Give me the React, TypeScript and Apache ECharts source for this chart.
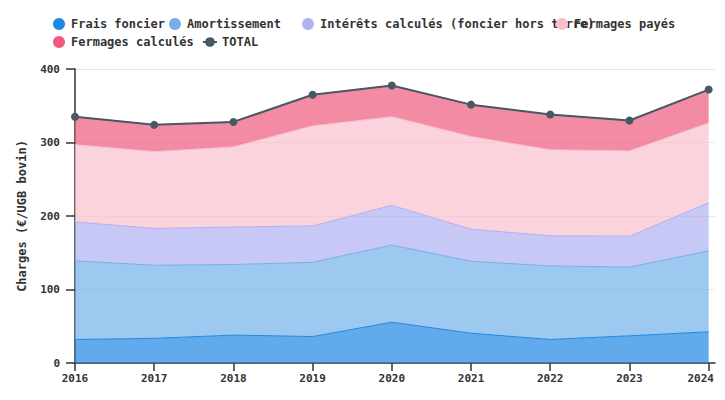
import React, { useEffect, useRef } from "react";
import * as echarts from "echarts";

const years = [2016, 2017, 2018, 2019, 2020, 2021, 2022, 2023, 2024];
const fraisFoncier = [32, 33.5, 38, 36, 55.5, 40.5, 32, 37, 42.5];
const amortissement = [107, 99.5, 96, 101, 105, 98, 100, 93.5, 110];
const interets = [53, 50, 51, 49.5, 54, 43.5, 41, 42, 65.5];
const fermagesPayes = [105, 104.5, 109, 136, 120.5, 126, 117, 116, 108.5];
const fermagesCalcules = [38, 36.5, 34, 42.5, 42.5, 43.5, 48, 41.5, 45.5];
const total = [335, 324, 328, 365, 377.5, 351.5, 338, 330, 372];
const yTicks = [0, 100, 200, 300, 400];

const FONT = "'DejaVu Sans Mono', monospace";
const TXT = "#333333";

const areaNames = [
  "Frais foncier",
  "Amortissement",
  "Intérêts calculés (foncier hors terre)",
  "Fermages payés",
  "Fermages calculés",
];
const areaData = [fraisFoncier, amortissement, interets, fermagesPayes, fermagesCalcules];
const areaColors = ["#1E88E5", "#74B0EA", "#B0B0F2", "#F8C0CE", "#F05A7E"];

const legendPos: [string, number, number][] = [
  ["Frais foncier", 53, 18],
  ["Amortissement", 169, 18],
  ["Intérêts calculés (foncier hors terre)", 302, 18],
  ["Fermages payés", 556, 18],
  ["Fermages calculés", 53, 36],
  ["TOTAL", 202, 36],
];

export default function App() {
  const ref = useRef<HTMLDivElement>(null);
  useEffect(() => {
    if (!ref.current) return;
    const chart = echarts.init(ref.current, undefined, { renderer: "svg" });
    // value first, year second, so stacking happens on the y dimension
    const pair = (arr: number[]) => arr.map((v, i) => [v, years[i]]);
    const series: any[] = areaNames.map((name, k) => ({
      name,
      type: "line",
      stack: "charges",
      data: pair(areaData[k]),
      encode: { x: 1, y: 0 },
      symbol: "none",
      showSymbol: false,
      color: areaColors[k],
      lineStyle: { width: 1, color: areaColors[k] },
      areaStyle: { color: areaColors[k], opacity: 0.7 },
      z: 2,
    }));
    series.push({
      name: "TOTAL",
      type: "line",
      data: pair(total),
      encode: { x: 1, y: 0 },
      symbol: "circle",
      symbolSize: 8,
      color: "#455A64",
      itemStyle: { color: "#455A64" },
      lineStyle: { width: 2, color: "#455A64" },
      z: 5,
    });
    chart.setOption({
      animation: false,
      backgroundColor: "#ffffff",
      textStyle: { fontFamily: FONT },
      legend: legendPos.map(([name, left, top]) => ({
        data: [name],
        left,
        top,
        padding: 0,
        itemGap: 0,
        itemWidth: 14,
        itemHeight: 12,
        icon: name === "TOTAL" ? undefined : "circle",
        textStyle: { fontFamily: FONT, fontWeight: "bold", fontSize: 12, color: TXT },
      })),
      grid: { left: 75, right: 10, top: 69, bottom: 37, containLabel: false },
      xAxis: {
        type: "value",
        min: 2016,
        max: 2024.08,
        axisLine: { show: true, lineStyle: { color: "#333333", width: 1.5 } },
        axisTick: { show: true, length: 8, customValues: years, lineStyle: { color: "#333333", width: 1.5 } },
        splitLine: { show: false },
        axisLabel: {
          customValues: years,
          margin: 10,
          fontFamily: FONT,
          fontWeight: "bold",
          fontSize: 11,
          color: TXT,
          formatter: (v: number) => (v === 2024 ? "{e|2024}" : String(v)),
          rich: {
            e: { fontFamily: FONT, fontWeight: "bold", fontSize: 11, color: TXT, padding: [0, 16, 0, 0] },
          },
        },
      },
      yAxis: {
        type: "value",
        min: yTicks[0],
        max: yTicks[yTicks.length - 1],
        interval: 100,
        name: "Charges (€/UGB bovin)",
        nameLocation: "middle",
        nameGap: 47,
        nameTextStyle: { fontFamily: FONT, fontWeight: "bold", fontSize: 12, color: TXT },
        axisLine: { show: true, lineStyle: { color: "#333333", width: 1.5 } },
        axisTick: { show: true, length: 9, lineStyle: { color: "#333333", width: 1.5 } },
        splitLine: { show: true, lineStyle: { color: "#e6e6e6", width: 1 } },
        axisLabel: { margin: 15, fontFamily: FONT, fontWeight: "bold", fontSize: 11, color: TXT },
      },
      series,
    });
    return () => chart.dispose();
  }, []);
  return (
    <div
      ref={ref}
      style={{ position: "absolute", left: 0, top: 0, width: 725, height: 400 }}
    />
  );
}
